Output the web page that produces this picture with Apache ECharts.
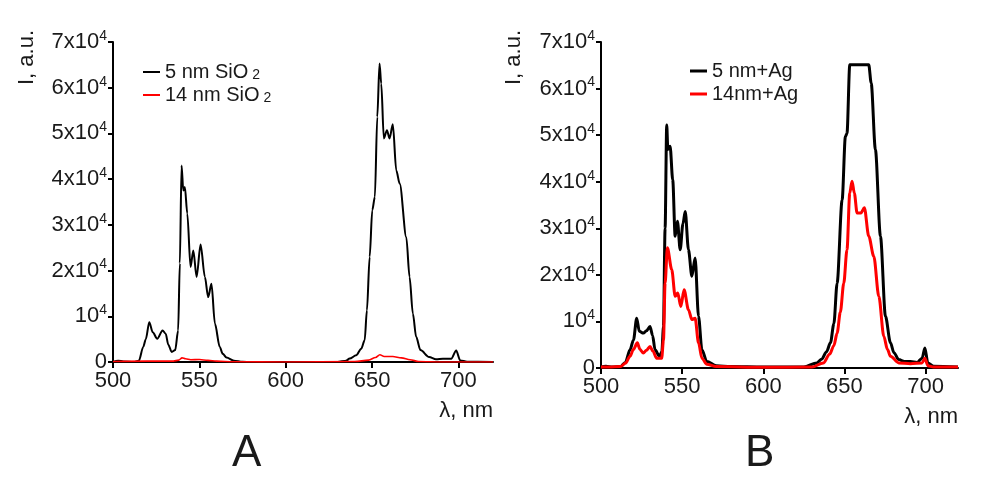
<!DOCTYPE html>
<html>
<head>
<meta charset="utf-8">
<script src="https://cdn.jsdelivr.net/npm/echarts@6/dist/echarts.min.js"></script>
<style>
    html, body { margin: 0; padding: 0; background: #fff; }
    #chart { width: 994px; height: 480px; }
</style>
</head>
<body>
<div id="chart"></div>
<script>
// panel A: 5 nm / 14 nm SiO2
var lamA5 = [500, 503, 506, 512, 515, 517.5, 519, 521, 523, 525.6, 528.7, 530.5, 532, 534, 536, 537.7, 538.7, 539.7, 540.7, 541.6, 543, 544.9, 546.5, 548.4, 550.7, 553.2, 555.1, 557, 559, 561.8, 563.5, 565.7, 570, 575, 580, 630, 635, 637, 640.8, 643.7, 645.7, 647, 648.6, 650.1, 651.6, 653, 654.3, 655.3, 656.8, 658.6, 660.1, 662, 664, 666, 669.8, 671.7, 673.6, 675.5, 678, 683, 687, 691, 695.8, 698.7, 701, 705, 720];
var valA5 = [0, 300, 100, 0, 300, 3300, 5000, 8700, 6500, 5100, 6900, 6200, 3800, 2200, 2600, 6900, 21600, 43000, 37500, 38300, 32500, 20800, 24400, 18600, 25700, 18600, 14200, 17100, 8400, 3300, 1800, 960, 300, 50, 0, 0, 300, 740, 1470, 2900, 4750, 11300, 23000, 33200, 36100, 53600, 65300, 60900, 48900, 50700, 48900, 52000, 41900, 39000, 27300, 18600, 10600, 5500, 2600, 1100, 600, 700, 700, 2500, 350, 50, 0];

var lamA14 = [500, 520, 535, 538, 540, 542, 545, 550, 555, 560, 570, 600, 640, 648, 652, 654.5, 657, 662, 667, 672, 677, 690, 720];
var valA14 = [100, 200, 200, 400, 900, 700, 500, 550, 350, 200, 50, 0, 100, 400, 1000, 1600, 1200, 1200, 900, 500, 100, 0, 0];

// panel B: 5 nm / 14 nm + Ag
var lamB5 = [500, 503, 507, 512, 515, 517.9, 520, 522, 523.6, 526.1, 528, 530.2, 531.8, 533.3, 536, 537.5, 538.5, 539.5, 540.5, 541.2, 542.6, 544.2, 545.7, 547.1, 548.8, 550.5, 551.9, 553.9, 556, 558, 560.1, 562.2, 565.2, 571, 580, 600, 625, 633, 636, 639, 641.4, 643.5, 645.5, 648.6, 650.6, 651.6, 653.3, 665, 666.5, 669.1, 672.2, 675.3, 678.4, 680.5, 683.5, 687, 690.7, 694.8, 697.9, 699.6, 701.4, 705, 720];
var valB5 = [200, 400, 200, 300, 1200, 3900, 6000, 10700, 7900, 7500, 8000, 8900, 7000, 3900, 2500, 3500, 8900, 30000, 52200, 46900, 47600, 40400, 28300, 31500, 25400, 31000, 33600, 25400, 19700, 23600, 11100, 3900, 1400, 500, 300, 200, 200, 1100, 1900, 3500, 5400, 9500, 18200, 36100, 49700, 50400, 65100, 65100, 61200, 46900, 28300, 11100, 5400, 3300, 1800, 1400, 1400, 1200, 2100, 4300, 1100, 350, 200];

var lamB14 = [500, 505, 512, 515, 517.9, 520, 522.4, 524, 526.1, 528, 530.2, 532, 534.3, 537.4, 538.5, 539.5, 540.9, 543.6, 545.7, 547.3, 549.2, 551.2, 553.9, 556, 558, 560.1, 562.2, 565.2, 571, 600, 630, 637, 641, 643.5, 645.5, 647.5, 649.6, 651.6, 653.3, 654.7, 656.1, 657.8, 660.2, 662.3, 665, 668.1, 671.2, 674.3, 676.5, 678.4, 683.5, 690.7, 697.9, 699.6, 701.4, 705, 720];
var valB14 = [200, 200, 300, 1000, 2500, 4000, 5400, 4000, 3200, 3800, 4600, 3600, 2100, 2100, 6000, 18200, 25800, 21100, 15400, 16100, 13200, 16800, 12500, 10400, 10700, 5400, 2100, 800, 300, 150, 200, 1100, 3000, 4800, 7500, 12000, 18200, 25400, 37600, 40100, 37600, 33300, 33300, 34400, 28300, 24000, 15400, 6800, 4000, 2500, 1100, 900, 1100, 2100, 500, 200, 200];

var xTicks = [500, 550, 600, 650, 700];
var yMult = [0, 1, 2, 3, 4, 5, 6, 7];
var seriesNames = ['5 nm SiO2', '14 nm SiO2', '5 nm+Ag', '14nm+Ag'];

function pairs(xs, ys) {
    return xs.map(function (x, i) { return [x, ys[i]]; });
}

var font = "'Liberation Sans', Arial, sans-serif";
var ink = '#1a1a1a';

function xAx(idx) {
    return {
        type: 'value',
        gridIndex: idx,
        min: 500,
        max: 720,
        name: 'λ, nm',
        nameLocation: 'end',
        nameGap: 0,
        nameTextStyle: {
            fontFamily: font, fontSize: 22, color: ink,
            align: 'right', verticalAlign: 'top', padding: [38, 0, 0, 0]
        },
        axisLine: { lineStyle: { color: '#000', width: 2 } },
        axisTick: { length: 6, lineStyle: { color: '#000', width: 2 }, customValues: xTicks },
        axisLabel: { fontFamily: font, fontSize: 22, color: ink, margin: 8, customValues: xTicks },
        splitLine: { show: false }
    };
}

function yAx(idx) {
    return {
        type: 'value',
        gridIndex: idx,
        min: 0,
        max: 70000,
        interval: 10000,
        axisLine: { show: true, lineStyle: { color: '#000', width: 2 } },
        axisTick: { show: true, length: 5, lineStyle: { color: '#000', width: 2 } },
        axisLabel: {
            margin: 6,
            formatter: function (v) {
                var m = yMult[Math.round(v / 10000)];
                if (m === 0) return '{b|0}';
                if (m === 1) return '{b|10}{s|4}';
                return '{b|' + m + 'x10}{s|4}';
            },
            rich: {
                b: { fontFamily: font, fontSize: 22, color: ink, lineHeight: 24 },
                s: { fontFamily: font, fontSize: 14, color: ink, verticalAlign: 'top', padding: [0, 0, 12, 0] }
            }
        },
        splitLine: { show: false }
    };
}

function legendOf(names, left, top, h) {
    return {
        data: names,
        left: left,
        top: top,
        orient: 'vertical',
        icon: 'rect',
        itemWidth: 17,
        itemHeight: h,
        itemGap: 3,
        selectedMode: false,
        formatter: function (name) {
            return name.replace('SiO2', 'SiO{sub|2}');
        },
        textStyle: {
            fontFamily: font, fontSize: 20, color: ink, lineHeight: 20,
            rich: {
                sub: { fontFamily: font, fontSize: 14, color: ink, verticalAlign: 'bottom', padding: [8, 0, 0, 4] }
            }
        }
    };
}

function line(name, data, color, width, xi) {
    return {
        name: name,
        type: 'line',
        xAxisIndex: xi,
        yAxisIndex: xi,
        data: data,
        showSymbol: false,
        smooth: 0.3,
        smoothMonotone: 'x',
        itemStyle: { color: color },
        lineStyle: { color: color, width: width }
    };
}

var chart = echarts.init(document.getElementById('chart'));

var option = {
    animation: false,
    backgroundColor: '#fff',
    title: [
        { text: 'A', left: 227, top: 427, textStyle: { fontFamily: font, fontSize: 44, fontWeight: 'normal', color: ink } },
        { text: 'B', left: 740, top: 427, textStyle: { fontFamily: font, fontSize: 44, fontWeight: 'normal', color: ink } }
    ],
    grid: [
        { left: 113, top: 42, width: 380, height: 320 },
        { left: 601, top: 42, width: 357, height: 326 }
    ],
    xAxis: [xAx(0), xAx(1)],
    yAxis: [yAx(0), yAx(1)],
    legend: [
        legendOf([seriesNames[0], seriesNames[1]], 138, 57, 2),
        legendOf([seriesNames[2], seriesNames[3]], 685, 56, 3)
    ],
    graphic: [
        { type: 'text', x: 27, y: 30, rotation: Math.PI / 2, style: { text: 'I, a.u.', font: '22px ' + font, fill: ink, textAlign: 'right', textVerticalAlign: 'middle' } },
        { type: 'text', x: 514, y: 30, rotation: Math.PI / 2, style: { text: 'I, a.u.', font: '22px ' + font, fill: ink, textAlign: 'right', textVerticalAlign: 'middle' } }
    ],
    series: [
        line(seriesNames[0], pairs(lamA5, valA5), '#000', 2, 0),
        line(seriesNames[1], pairs(lamA14, valA14), '#ff0000', 1.6, 0),
        line(seriesNames[2], pairs(lamB5, valB5), '#000', 3, 1),
        line(seriesNames[3], pairs(lamB14, valB14), '#ff0000', 3, 1)
    ]
};

chart.setOption(option);
</script>
</body>
</html>
